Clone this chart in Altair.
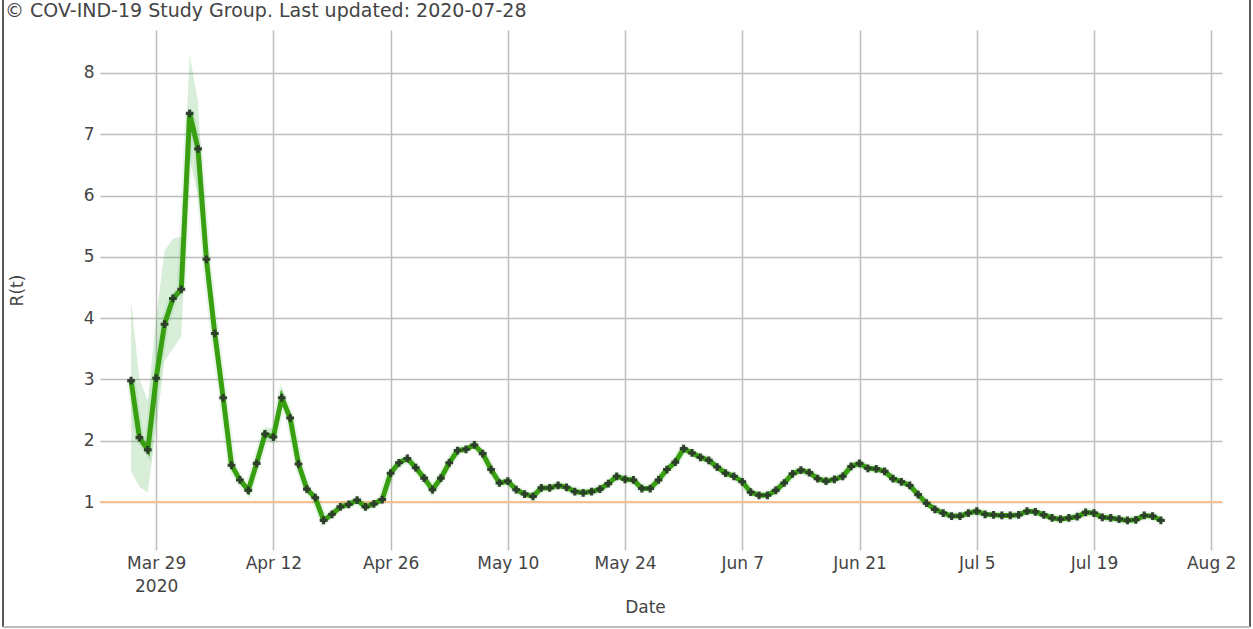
import altair as alt
import pandas as pd

# ---------------- data ----------------
start_date = "2020-03-26"
r_mar = [2.98, 2.05, 1.85, 3.02, 3.90, 4.32]
r_apr = [4.47, 7.34, 6.76, 4.96, 3.75, 2.70, 1.60, 1.36, 1.19, 1.63,
         2.11, 2.06, 2.70, 2.37, 1.62, 1.21, 1.07, 0.70, 0.80, 0.92,
         0.96, 1.03, 0.92, 0.97, 1.04, 1.47, 1.64, 1.71, 1.56, 1.39]
r_may = [1.20, 1.39, 1.64, 1.84, 1.86, 1.93, 1.79, 1.53, 1.31, 1.34,
         1.20, 1.13, 1.09, 1.23, 1.23, 1.27, 1.24, 1.17, 1.15, 1.17,
         1.21, 1.30, 1.42, 1.37, 1.36, 1.22, 1.22, 1.36, 1.53, 1.65, 1.87]
r_jun = [1.80, 1.73, 1.68, 1.57, 1.47, 1.42, 1.33, 1.16, 1.11, 1.11,
         1.19, 1.31, 1.46, 1.52, 1.48, 1.38, 1.34, 1.37, 1.42, 1.58,
         1.63, 1.55, 1.54, 1.50, 1.38, 1.33, 1.27, 1.12, 0.98, 0.88]
r_jul = [0.82, 0.77, 0.77, 0.82, 0.85, 0.80, 0.79, 0.78, 0.78, 0.79,
         0.85, 0.84, 0.79, 0.74, 0.72, 0.74, 0.76, 0.83, 0.82, 0.75,
         0.74, 0.72, 0.70, 0.71, 0.78, 0.77, 0.70]

# credible band (visible part, Mar 26 .. Apr 16)
band_lower = [1.50, 1.25, 1.15, 2.20, 3.30, 3.50, 3.70, 6.60, 6.00, 4.80,
              3.65, 2.62, 1.55, 1.31, 1.13, 1.57, 2.02, 1.95, 2.58, 2.28,
              1.56, 1.16]
band_upper = [4.30, 3.00, 2.65, 4.00, 5.10, 5.30, 5.33, 8.30, 7.52, 5.10,
              3.85, 2.78, 1.66, 1.41, 1.25, 1.69, 2.22, 2.20, 2.87, 2.46,
              1.68, 1.26]

threshold = [1]
tick_dates = [(3, 29), (4, 12), (4, 26), (5, 10), (5, 24), (6, 7),
              (6, 21), (7, 5), (7, 19), (8, 2)]
y_ticks = [1, 2, 3, 4, 5, 6, 7, 8]
title_text = "\u00a9 COV-IND-19 Study Group. Last updated: 2020-07-28"

# ---------------- tables ----------------
r_all = r_mar + r_apr + r_may + r_jun + r_jul
dates = pd.date_range(start_date, periods=len(r_all), freq="D")
df = pd.DataFrame({"date": dates.strftime("%Y-%m-%d"), "r": r_all})
band_df = pd.DataFrame({
    "date": dates[:len(band_lower)].strftime("%Y-%m-%d"),
    "lo": band_lower, "hi": band_upper,
})
thr_df = pd.DataFrame({"y": threshold})

FONT = "DejaVu Sans"
W, H = 1122, 520

x_scale = alt.Scale(
    type="utc",
    domain=[alt.DateTime(year=2020, month=3, date=22, hours=7, utc=True),
            alt.DateTime(year=2020, month=8, date=3, hours=7, utc=True)],
)
y_scale = alt.Scale(domain=[0.217, 8.70], nice=False, zero=False)

x_axis = alt.Axis(
    values=[alt.DateTime(year=2020, month=m, date=d, utc=True) for m, d in tick_dates],
    labelExpr="utcFormat(datum.value, '%b %-d') == 'Mar 29' ? ['Mar 29', '2020'] : utcFormat(datum.value, '%b %-d')",
    labelLineHeight=23,
    labelPadding=5,
    title="Date",
    titleX=545, titleY=57, titleAlign="center", titleBaseline="middle",
)
y_axis = alt.Axis(
    values=y_ticks, format="d", labelPadding=6, title="R(t)",
    titleX=-83, titleY=H / 2, titleAngle=-90, titleAlign="center", titleBaseline="middle",
)

base = alt.Chart(df)

band = alt.Chart(band_df).mark_area(color="#2ca02c", opacity=0.18, interpolate="linear").encode(
    x=alt.X("date:T", scale=x_scale, axis=x_axis),
    y=alt.Y("lo:Q", scale=y_scale, axis=y_axis),
    y2="hi:Q",
)

thr = alt.Chart(thr_df).mark_rule(color="#f8c08a", strokeWidth=2).encode(
    y=alt.Y("y:Q", scale=y_scale),
)

halo = base.mark_line(color="#2ca02c", strokeWidth=9, opacity=0.1).encode(
    x=alt.X("date:T", scale=x_scale), y=alt.Y("r:Q", scale=y_scale))

line = base.mark_line(color="#38a010", strokeWidth=5).encode(
    x=alt.X("date:T", scale=x_scale), y=alt.Y("r:Q", scale=y_scale))

pts = base.mark_point(shape="cross", filled=True, size=60, color="#2b3a2b", opacity=0.95).encode(
    x=alt.X("date:T", scale=x_scale), y=alt.Y("r:Q", scale=y_scale))

one = pd.DataFrame({"a": [0]})
title_mark = alt.Chart(one).mark_text(
    text=title_text, align="left", baseline="alphabetic", font=FONT, fontSize=19, color="#444444"
).encode(x=alt.value(-95), y=alt.value(-13))

frame_left = alt.Chart(one).mark_rule(color="#222222", strokeWidth=1.5).encode(
    x=alt.value(-97), y=alt.value(-30), y2=alt.value(597))
frame_right = alt.Chart(one).mark_rule(color="#222222", strokeWidth=1.5).encode(
    x=alt.value(1150), y=alt.value(-30), y2=alt.value(597))
frame_bottom = alt.Chart(one).mark_rule(color="#bbbbbb", strokeWidth=2).encode(
    x=alt.value(-97), x2=alt.value(1150), y=alt.value(597))

chart = alt.layer(band, thr, halo, line, pts, title_mark, frame_left, frame_right, frame_bottom).properties(
    width=W, height=H,
    background="white",
    autosize=alt.AutoSizeParams(type="none"),
    padding={"left": 100, "top": 30, "right": 31, "bottom": 79},
).configure_view(stroke=None).configure_axis(
    domain=False, ticks=False, grid=True, gridColor="#bdbdbd", gridWidth=1.5,
    labelFont=FONT, labelFontSize=17, labelColor="#444444",
    titleFont=FONT, titleFontSize=17, titleColor="#444444", titleFontWeight="normal",
)

chart.save("out.html", embed_options={"renderer": "svg", "actions": False})
